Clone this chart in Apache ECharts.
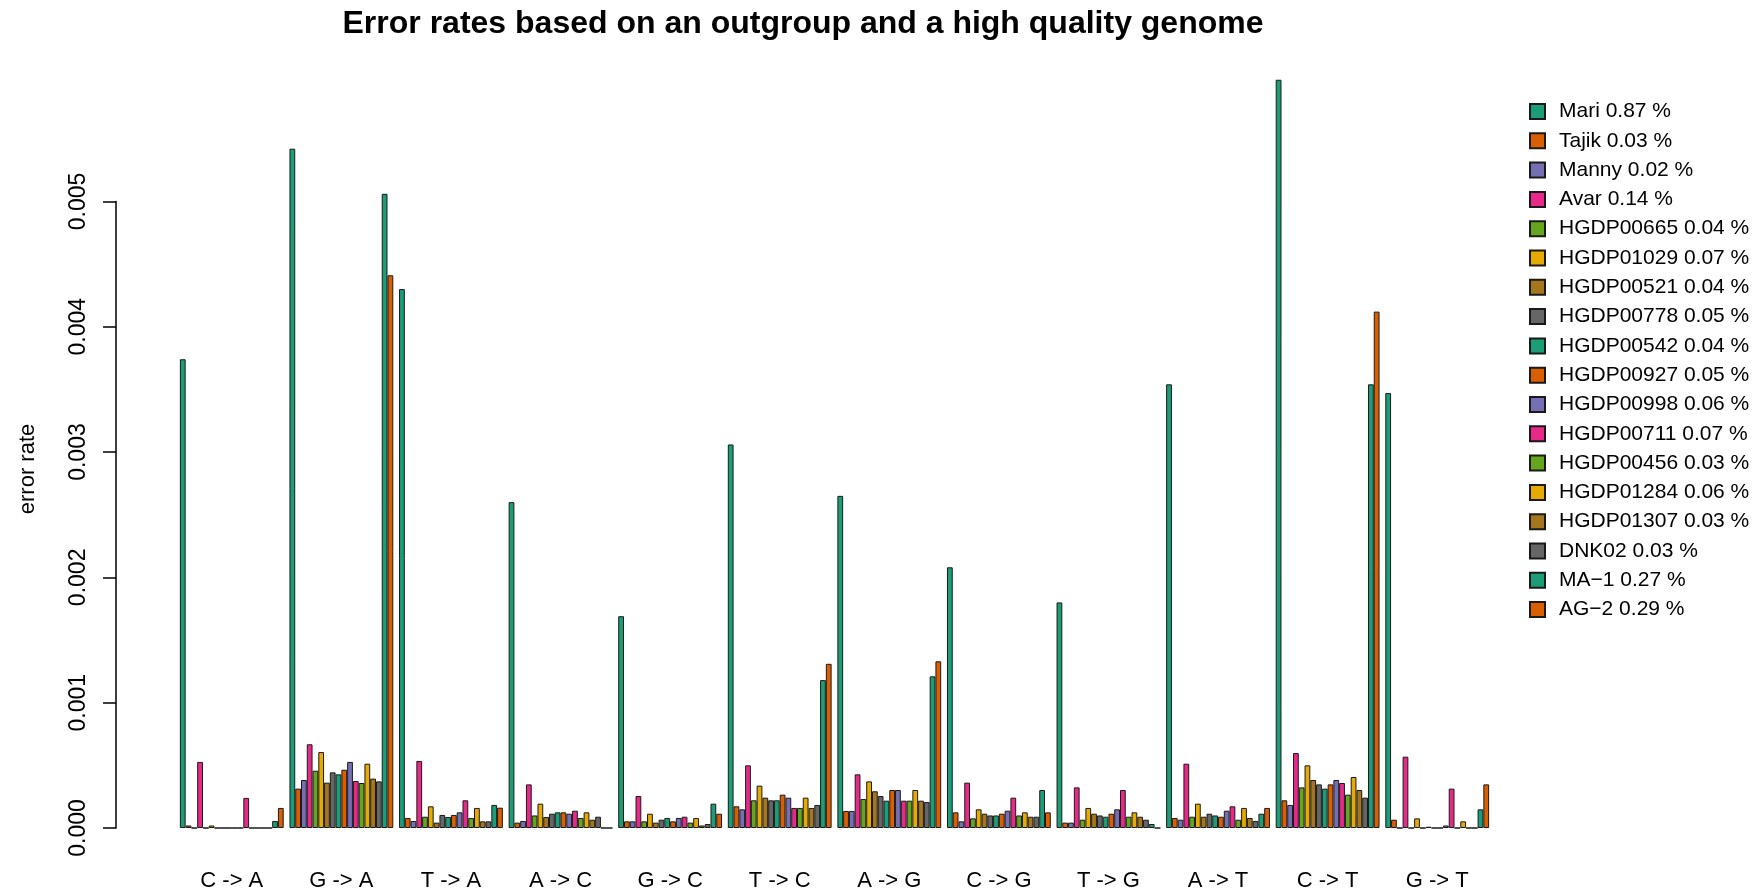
<!DOCTYPE html>
<html>
<head>
<meta charset="utf-8">
<title>Error rates</title>
<script src="https://cdn.jsdelivr.net/npm/echarts@6/dist/echarts.min.js"></script>
<style>
  html, body { margin: 0; padding: 0; background: #fff; }
  #chart { width: 1764px; height: 893px; }
</style>
</head>
<body>
<div id="chart"></div>
<script>
// substitution types (x axis)
var categories = ['C -> A', 'G -> A', 'T -> A', 'A -> C', 'G -> C', 'T -> C',
  'A -> G', 'C -> G', 'T -> G', 'A -> T', 'C -> T', 'G -> T']

var yTicks = [0, 0.001, 0.002, 0.003, 0.004, 0.005]

// error rate per sample, one value per substitution type
var mari = [0.00374, 0.00542, 0.00430, 0.00260, 0.00169, 0.00306, 0.00265, 0.00208, 0.00180, 0.00354, 0.00597, 0.00347]
var tajik = [0.00002, 0.000314, 0.00008, 0.000043, 0.000053, 0.000173, 0.000136, 0.000125, 0.000043, 0.00008, 0.000221, 0.000066]
var manny = [0, 0.000383, 0.000056, 0.000056, 0.000053, 0.000149, 0.000136, 0.000053, 0.000043, 0.000066, 0.000184, 0]
var avar = [0.000527, 0.000668, 0.000535, 0.000348, 0.000255, 0.0005, 0.000428, 0.000362, 0.000324, 0.000513, 0.000598, 0.000569]
var hgdp00665 = [0, 0.000457, 0.00009, 0.0001, 0.000053, 0.000221, 0.000231, 0.000077, 0.000066, 0.00009, 0.000324, 0]
var hgdp01029 = [0.00002, 0.000606, 0.000173, 0.000194, 0.000114, 0.000338, 0.000372, 0.000149, 0.00016, 0.000194, 0.0005, 0.000077]
var hgdp00521 = [0, 0.000362, 0.000043, 0.000088, 0.000043, 0.000242, 0.000293, 0.000114, 0.000114, 0.00009, 0.000383, 0]
var hgdp00778 = [0, 0.000444, 0.000104, 0.000114, 0.000066, 0.000221, 0.000255, 0.0001, 0.0001, 0.000114, 0.000348, 0.00001]
var hgdp00542 = [0, 0.000428, 0.000088, 0.000125, 0.00008, 0.000221, 0.000218, 0.0001, 0.00009, 0.0001, 0.000314, 0]
var hgdp00927 = [0, 0.000465, 0.000104, 0.000125, 0.000053, 0.000266, 0.000303, 0.000114, 0.000114, 0.00009, 0.000348, 0]
var hgdp00998 = [0, 0.000527, 0.000125, 0.000114, 0.00008, 0.000242, 0.000303, 0.000138, 0.000149, 0.000138, 0.000383, 0.00002]
var hgdp00711 = [0.00024, 0.000375, 0.000221, 0.000138, 0.00009, 0.00016, 0.000218, 0.000242, 0.000303, 0.000173, 0.000359, 0.000314]
var hgdp00456 = [0, 0.000359, 0.00008, 0.00008, 0.000043, 0.00016, 0.000218, 0.0001, 0.00009, 0.000066, 0.000266, 0]
var hgdp01284 = [0, 0.000513, 0.00016, 0.000125, 0.00008, 0.000242, 0.000303, 0.000125, 0.000125, 0.00016, 0.000407, 0.000053]
var hgdp01307 = [0, 0.000394, 0.000053, 0.000066, 0.00002, 0.00016, 0.000218, 0.00009, 0.00009, 0.00008, 0.000303, 0]
var dnk02 = [0, 0.000372, 0.000053, 0.00009, 0.000032, 0.000184, 0.000207, 0.00009, 0.000066, 0.000056, 0.000242, 0]
var ma1 = [0.000056, 0.00506, 0.000184, 0, 0.000194, 0.00118, 0.00121, 0.000303, 0.000032, 0.000114, 0.00354, 0.000149]
var ag2 = [0.00016, 0.00441, 0.000162, 0, 0.000114, 0.00131, 0.00133, 0.000125, 0, 0.00016, 0.00412, 0.000348]

var sampleNames = ['Mari 0.87 %', 'Tajik 0.03 %', 'Manny 0.02 %', 'Avar 0.14 %',
  'HGDP00665 0.04 %', 'HGDP01029 0.07 %', 'HGDP00521 0.04 %', 'HGDP00778 0.05 %',
  'HGDP00542 0.04 %', 'HGDP00927 0.05 %', 'HGDP00998 0.06 %', 'HGDP00711 0.07 %',
  'HGDP00456 0.03 %', 'HGDP01284 0.06 %', 'HGDP01307 0.03 %', 'DNK02 0.03 %',
  'MA\u22121 0.27 %', 'AG\u22122 0.29 %']
var sampleValues = [mari, tajik, manny, avar, hgdp00665, hgdp01029, hgdp00521, hgdp00778,
  hgdp00542, hgdp00927, hgdp00998, hgdp00711, hgdp00456, hgdp01284, hgdp01307, dnk02, ma1, ag2]

// R "Dark2" palette, recycled
var palette = ['#1B9E77', '#D95F02', '#7570B3', '#E7298A', '#66A61E', '#E6AB02', '#A6761D', '#666666']

var font = '"Liberation Sans", Arial, sans-serif'

var chart = echarts.init(document.getElementById('chart'))

var series = sampleNames.map(function (name, i) {
  return {
    name: name,
    type: 'bar',
    xAxisIndex: 0,
    yAxisIndex: 0,
    data: sampleValues[i],
    barGap: '0%',
    barCategoryGap: '5.263%',
    itemStyle: {
      color: palette[i % palette.length],
      borderColor: '#1a1a1a',
      borderWidth: 1
    },
    emphasis: { disabled: true }
  }
})

chart.setOption({
  animation: false,
  textStyle: { fontFamily: font },
  title: {
    text: 'Error rates based on an outgroup and a high quality genome',
    left: 798,
    top: 3,
    textAlign: 'center',
    textStyle: { fontSize: 32, fontWeight: 'bold', color: '#000', fontFamily: font }
  },
  legend: {
    orient: 'vertical',
    left: 1524,
    top: 96,
    itemWidth: 15,
    itemHeight: 15,
    itemGap: 8.3,
    icon: 'rect',
    selectedMode: false,
    textStyle: { fontSize: 21, color: '#000', fontFamily: font, padding: [0, 0, 0, 9], lineHeight: 21 }
  },
  grid: [
    // bars
    { left: 177, right: 272, top: 76, bottom: 65 },
    // R-style y axis, drawn only from 0 to 0.005
    { left: 116, width: 1, top: 201.4, bottom: 65 }
  ],
  xAxis: [
    {
      type: 'category',
      gridIndex: 0,
      data: categories,
      axisLine: { show: false },
      axisTick: { show: false },
      axisLabel: { fontSize: 22, color: '#000', margin: 42, fontFamily: font }
    },
    { type: 'value', gridIndex: 1, show: false }
  ],
  yAxis: [
    {
      type: 'value',
      gridIndex: 0,
      min: 0,
      max: 0.006,
      name: 'error rate',
      nameLocation: 'middle',
      nameGap: 138,
      nameTextStyle: { fontSize: 22, color: '#000', fontFamily: font, padding: [0, 34, 0, 0] },
      axisLine: { show: false },
      axisTick: { show: false },
      axisLabel: { show: false },
      splitLine: { show: false }
    },
    {
      type: 'value',
      gridIndex: 1,
      min: yTicks[0],
      max: yTicks[yTicks.length - 1],
      interval: 0.001,
      axisLine: { show: true, lineStyle: { color: '#000', width: 1.5 } },
      axisTick: { show: true, length: 13, lineStyle: { color: '#000', width: 1.5 } },
      axisLabel: {
        rotate: 90,
        fontSize: 23,
        color: '#000',
        margin: 26,
        fontFamily: font,
        formatter: function (v) { return v.toFixed(3) }
      },
      splitLine: { show: false }
    }
  ],
  series: series
})
</script>
</body>
</html>
